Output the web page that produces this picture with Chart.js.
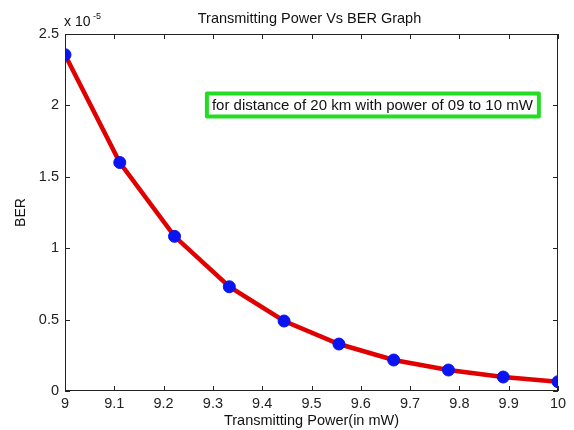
<!DOCTYPE html>
<html>
<head>
<meta charset="utf-8">
<script src="https://cdn.jsdelivr.net/npm/chart.js@4.4.1/dist/chart.umd.min.js"></script>
<style>
html,body{margin:0;padding:0;background:#fff;}
#wrap{width:574px;height:430px;position:relative;}
</style>
</head>
<body>
<div id="wrap"><canvas id="c" width="574" height="430"></canvas></div>
<script>
const chartTitle = "Transmitting Power Vs BER Graph";
const xAxisLabel = "Transmitting Power(in mW)";
const yAxisLabel = "BER";
const annotationText = "for distance of 20 km with power of 09 to 10 mW";
const powerMW = [9, 9.1111, 9.2222, 9.3333, 9.4444, 9.5556, 9.6667, 9.7778, 9.8889, 10];
const berValues = [2.355e-5, 1.60e-5, 1.083e-5, 0.730e-5, 0.490e-5, 0.329e-5, 0.217e-5, 0.147e-5, 0.098e-5, 0.065e-5];
const xTicks = [9, 9.1, 9.2, 9.3, 9.4, 9.5, 9.6, 9.7, 9.8, 9.9, 10];
const yTicks = [0, 0.5e-5, 1e-5, 1.5e-5, 2e-5, 2.5e-5];
const yExponent = -5;
const annotationAt = {x: 9.3, y: 2e-5};

const FONT = "Liberation Sans, Arial, sans-serif";
const FS = 14.5;

const framePlugin = {
  id: 'frame',
  afterDraw(chart) {
    const ctx = chart.ctx, a = chart.chartArea;
    const xs = chart.scales.x, ys = chart.scales.y;
    ctx.save();
    ctx.strokeStyle = '#222';
    ctx.lineWidth = 1;
    ctx.strokeRect(a.left + 0.5, a.top + 0.5, a.right - a.left - 1, a.bottom - a.top - 1);
    ctx.beginPath();
    const tl = 5;
    xTicks.forEach(v => {
      const px = Math.round(xs.getPixelForValue(v)) + 0.5;
      ctx.moveTo(px, a.bottom); ctx.lineTo(px, a.bottom - tl);
      ctx.moveTo(px, a.top); ctx.lineTo(px, a.top + tl);
    });
    yTicks.forEach(v => {
      const py = Math.round(ys.getPixelForValue(v)) + 0.5;
      ctx.moveTo(a.left, py); ctx.lineTo(a.left + tl, py);
      ctx.moveTo(a.right, py); ctx.lineTo(a.right - tl, py);
    });
    ctx.stroke();
    // title
    ctx.fillStyle = '#111';
    ctx.font = FS + 'px ' + FONT;
    ctx.textAlign = 'center';
    ctx.textBaseline = 'alphabetic';
    ctx.fillText(chartTitle, (a.left + a.right) / 2 - 2, 23);
    // exponent
    ctx.textAlign = 'left';
    ctx.font = '14px ' + FONT;
    ctx.fillText('x 10', a.left - 1, 26);
    ctx.font = '9px ' + FONT;
    ctx.fillText(String(yExponent), a.left + 28, 19);
    // annotation box
    const ax = xs.getPixelForValue(annotationAt.x), ay = ys.getPixelForValue(annotationAt.y);
    ctx.font = '15px ' + FONT;
    const tw = ctx.measureText(annotationText).width;
    const bx = ax - 6, bw = tw + 11, by = ay - 12, bh = 23;
    ctx.fillStyle = '#fff';
    ctx.fillRect(bx, by, bw, bh);
    ctx.strokeStyle = '#22dd22';
    ctx.lineWidth = 4;
    ctx.lineJoin = 'round';
    ctx.strokeRect(bx, by, bw, bh);
    ctx.fillStyle = '#111';
    ctx.textBaseline = 'middle';
    ctx.fillText(annotationText, bx + 5, ay);
    ctx.restore();
  }
};

new Chart(document.getElementById('c'), {
  type: 'line',
  data: {
    datasets: [{
      data: powerMW.map((x, i) => ({x: x, y: berValues[i]})),
      borderColor: '#e00000',
      borderWidth: 4.5,
      tension: 0,
      pointRadius: 6,
      pointBackgroundColor: '#0a14ee',
      pointBorderColor: '#0a14ee',
      pointBorderWidth: 1,
      fill: false
    }]
  },
  options: {
    responsive: false,
    animation: false,
    devicePixelRatio: 1,
    layout: {padding: {left: 0, right: 16, top: 34, bottom: 0}},
    plugins: {legend: {display: false}, tooltip: {enabled: false}, title: {display: false}},
    scales: {
      x: {
        type: 'linear', min: 9, max: 10,
        afterBuildTicks: s => { s.ticks = xTicks.map(v => ({value: v})); },
        afterFit: s => { s.height = 39; },
        grid: {display: false, drawTicks: false},
        border: {display: false},
        ticks: {
          padding: 4, color: '#222', font: {family: FONT, size: FS},
          maxRotation: 0, autoSkip: false,
          callback: v => String(Math.round(v * 10) / 10)
        },
        title: {display: true, text: xAxisLabel, color: '#111', font: {family: FONT, size: FS}, padding: {top: 0, bottom: 0}}
      },
      y: {
        type: 'linear', min: 0, max: 2.5e-5,
        afterBuildTicks: s => { s.ticks = yTicks.map(v => ({value: v})); },
        afterFit: s => { s.width = 65; },
        grid: {display: false, drawTicks: false},
        border: {display: false},
        ticks: {
          padding: 6, color: '#222', font: {family: FONT, size: FS},
          callback: v => String(Math.round(v / Math.pow(10, yExponent) * 10) / 10)
        },
        title: {display: true, text: yAxisLabel, color: '#111', font: {family: FONT, size: 14}, padding: {top: 13, bottom: 0}}
      }
    }
  },
  plugins: [framePlugin]
});
</script>
</body>
</html>
